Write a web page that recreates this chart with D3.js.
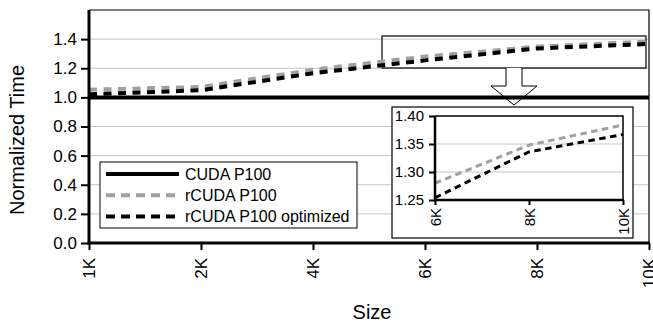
<!DOCTYPE html>
<html>
<head>
<meta charset="utf-8">
<script src="https://cdn.jsdelivr.net/npm/d3@7"></script>
<style>
  html, body { margin: 0; padding: 0; background: #fff; }
  svg { display: block; font-family: "Liberation Sans", Arial, sans-serif; }
</style>
</head>
<body>
<svg id="chart" width="653" height="322"></svg>
<script>
// Problem sizes and normalized execution times
const sizes = ["1K", "2K", "4K", "6K", "8K", "10K"];
const cudaP100 = [1.0, 1.0, 1.0, 1.0, 1.0, 1.0];
const rcudaP100 = [1.053, 1.071, 1.19, 1.28, 1.348, 1.384];
const rcudaP100Opt = [1.021, 1.049, 1.166, 1.254, 1.336, 1.367];
const yTicks = [0, 0.2, 0.4, 0.6, 0.8, 1.0, 1.2, 1.4];
const zoomSizes = ["6K", "8K", "10K"];
const zoomTicks = [1.25, 1.30, 1.35, 1.40];
const seriesNames = ["CUDA P100", "rCUDA P100", "rCUDA P100 optimized"];

const svg = d3.select("#chart");
const GRID = "#c6c6c6";
const GRAY = "#a0a0a0";

// ---- main plot ----
const M = { left: 89, right: 649, top: 10, bottom: 243 };
const x = d3.scalePoint().domain(sizes).range([M.left, M.right]);
const y = d3.scaleLinear().domain([0, 1.6]).range([M.bottom, M.top]);

const series = [
  { name: seriesNames[0], values: cudaP100, color: "#000", dash: null, width: 4 },
  { name: seriesNames[1], values: rcudaP100, color: GRAY, dash: "8,6.5", width: 4 },
  { name: seriesNames[2], values: rcudaP100Opt, color: "#000", dash: "8,6.5", width: 4 }
];

// horizontal gridlines
svg.append("g").selectAll("line").data(yTicks.filter(d => d > 0)).join("line")
  .attr("x1", M.left).attr("x2", M.right)
  .attr("y1", d => y(d)).attr("y2", d => y(d))
  .attr("stroke", GRID).attr("stroke-width", 1);

// plot frame (top and right edges)
svg.append("path")
  .attr("d", `M${M.left},${y(1.6)}H${M.right}V${M.bottom}`)
  .attr("fill", "none").attr("stroke", "#000").attr("stroke-width", 1.2);

// region highlighted by the zoomed view
svg.append("rect")
  .attr("x", 382).attr("y", 36).attr("width", 264).attr("height", 32)
  .attr("fill", "none").attr("stroke", "#000").attr("stroke-width", 1.2);

// arrow pointing down to the zoomed view
svg.append("path")
  .attr("d", "M506,68V86H491L514,105L537,86H522V68")
  .attr("fill", "#fff").attr("stroke", "#000").attr("stroke-width", 1);

const line = d3.line().x((d, i) => x(sizes[i])).y(d => y(d));

svg.append("g").selectAll("path").data(series).join("path")
  .attr("d", d => line(d.values))
  .attr("fill", "none")
  .attr("stroke", d => d.color)
  .attr("stroke-width", d => d.width)
  .attr("stroke-dasharray", d => d.dash);

// y axis
const yAxis = svg.append("g").attr("transform", `translate(${M.left},0)`)
  .call(d3.axisLeft(y).tickValues(yTicks).tickFormat(d3.format(".1f")).tickSize(8).tickPadding(4));
yAxis.select(".domain").attr("d", `M0,${M.bottom + 1.5}V${y(1.6)}`).attr("stroke-width", 3);
yAxis.selectAll(".tick line").attr("stroke-width", 2);
yAxis.selectAll(".tick text").attr("font-size", 17).attr("fill", "#000")
  .attr("font-family", "Liberation Sans, Arial, sans-serif");

// x axis
const xAxis = svg.append("g").attr("transform", `translate(0,${M.bottom})`)
  .call(d3.axisBottom(x).tickSize(7).tickPadding(0));
xAxis.select(".domain").attr("d", `M${M.left - 1.5},0H${M.right + 1}`).attr("stroke-width", 3);
xAxis.selectAll(".tick line").attr("stroke-width", 2);
xAxis.selectAll(".tick text")
  .attr("font-size", 17).attr("fill", "#000")
  .attr("font-family", "Liberation Sans, Arial, sans-serif")
  .attr("transform", "rotate(-90)")
  .attr("x", -15).attr("y", 0).attr("dy", "0.35em")
  .attr("text-anchor", "end");

// axis titles
svg.append("text")
  .attr("transform", "translate(24,140) rotate(-90)")
  .attr("text-anchor", "middle").attr("font-size", 20).text("Normalized Time");
svg.append("text")
  .attr("x", 372).attr("y", 319)
  .attr("text-anchor", "middle").attr("font-size", 20).text("Size");

// ---- legend ----
const legend = svg.append("g");
legend.append("rect")
  .attr("x", 100).attr("y", 162).attr("width", 257).attr("height", 66)
  .attr("fill", "#fff").attr("stroke", "#000").attr("stroke-width", 1);
const legendRows = legend.selectAll("g.row").data(series).join("g")
  .attr("class", "row")
  .attr("transform", (d, i) => `translate(0,${174 + i * 21.3})`);
legendRows.append("line")
  .attr("x1", 106).attr("x2", 179).attr("y1", 0).attr("y2", 0)
  .attr("stroke", d => d.color).attr("stroke-width", 4)
  .attr("stroke-dasharray", d => d.dash ? "9,6" : null);
legendRows.append("text")
  .attr("x", 185).attr("y", 0).attr("dy", "0.35em")
  .attr("font-size", 16).text(d => d.name);

// ---- zoomed view of 6K..10K ----
const Z = { left: 435, right: 623, top: 116, bottom: 200 };
const inset = svg.append("g");
inset.append("rect")
  .attr("x", 392).attr("y", 107).attr("width", 241).attr("height", 131)
  .attr("fill", "#fff").attr("stroke", "#000").attr("stroke-width", 1.2);

const zx = d3.scalePoint().domain(zoomSizes).range([Z.left, Z.right]);
const zy = d3.scaleLinear().domain([1.25, 1.40]).range([Z.bottom, Z.top]);

inset.append("g").selectAll("line").data(zoomTicks.filter(d => d > 1.25 && d < 1.40)).join("line")
  .attr("x1", Z.left).attr("x2", Z.right)
  .attr("y1", d => zy(d)).attr("y2", d => zy(d))
  .attr("stroke", GRID).attr("stroke-width", 1);

inset.append("path")
  .attr("d", `M${Z.left},${Z.top}H${Z.right}V${Z.bottom}`)
  .attr("fill", "none").attr("stroke", "#000").attr("stroke-width", 1.5);

const offset = sizes.indexOf(zoomSizes[0]);
const zLine = d3.line().x((d, i) => zx(zoomSizes[i])).y(d => zy(d));
inset.append("g").selectAll("path").data(series.slice(1)).join("path")
  .attr("d", d => zLine(d.values.slice(offset)))
  .attr("fill", "none")
  .attr("stroke", d => d.color)
  .attr("stroke-width", 3)
  .attr("stroke-dasharray", "6.5,4.5");

const zyAxis = inset.append("g").attr("transform", `translate(${Z.left},0)`)
  .call(d3.axisLeft(zy).tickValues(zoomTicks).tickFormat(d3.format(".2f")).tickSize(6).tickPadding(5));
zyAxis.select(".domain").attr("d", `M0,${Z.bottom + 1}V${Z.top}`).attr("stroke-width", 2.5);
zyAxis.selectAll(".tick line").attr("stroke-width", 2);
zyAxis.selectAll(".tick text").attr("font-size", 15).attr("fill", "#000")
  .attr("font-family", "Liberation Sans, Arial, sans-serif");

const zxAxis = inset.append("g").attr("transform", `translate(0,${Z.bottom})`)
  .call(d3.axisBottom(zx).tickSize(5).tickPadding(0));
zxAxis.select(".domain").attr("d", `M${Z.left - 1},0H${Z.right + 1}`).attr("stroke-width", 2.5);
zxAxis.selectAll(".tick line").attr("stroke-width", 2);
zxAxis.selectAll(".tick text")
  .attr("font-size", 15).attr("fill", "#000")
  .attr("font-family", "Liberation Sans, Arial, sans-serif")
  .attr("transform", "rotate(-90)")
  .attr("x", -8).attr("y", 0).attr("dy", "0.35em")
  .attr("text-anchor", "end");
</script>
</body>
</html>
